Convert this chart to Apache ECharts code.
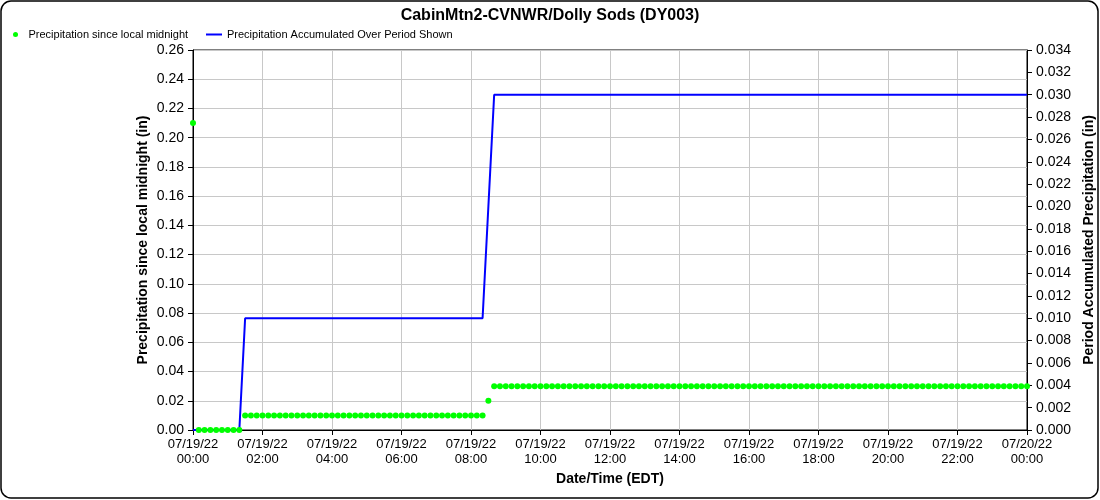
<!DOCTYPE html>
<html>
<head>
<meta charset="utf-8">
<script src="https://cdn.jsdelivr.net/npm/echarts@6/dist/echarts.min.js"></script>
<style>
html,body{margin:0;padding:0;background:#fff;}
#chart{width:1100px;height:500px;}
</style>
</head>
<body>
<div id="chart"></div>
<script>
// Minutes after 07/19/22 00:00, one reading every 10 minutes (00:00 .. 24:00)
var STEP_MIN = 10;

// Precipitation since local midnight (in), left axis
var sinceMidnight = [
  0.21,
  0, 0, 0, 0, 0, 0, 0, 0,
  0.01, 0.01, 0.01, 0.01, 0.01, 0.01, 0.01, 0.01, 0.01, 0.01,
  0.01, 0.01, 0.01, 0.01, 0.01, 0.01, 0.01, 0.01, 0.01, 0.01,
  0.01, 0.01, 0.01, 0.01, 0.01, 0.01, 0.01, 0.01, 0.01, 0.01,
  0.01, 0.01, 0.01, 0.01, 0.01, 0.01, 0.01, 0.01, 0.01, 0.01,
  0.01, 0.01,
  0.02,
  0.03, 0.03, 0.03, 0.03, 0.03, 0.03, 0.03, 0.03, 0.03, 0.03,
  0.03, 0.03, 0.03, 0.03, 0.03, 0.03, 0.03, 0.03, 0.03, 0.03,
  0.03, 0.03, 0.03, 0.03, 0.03, 0.03, 0.03, 0.03, 0.03, 0.03,
  0.03, 0.03, 0.03, 0.03, 0.03, 0.03, 0.03, 0.03, 0.03, 0.03,
  0.03, 0.03, 0.03, 0.03, 0.03, 0.03, 0.03, 0.03, 0.03, 0.03,
  0.03, 0.03, 0.03, 0.03, 0.03, 0.03, 0.03, 0.03, 0.03, 0.03,
  0.03, 0.03, 0.03, 0.03, 0.03, 0.03, 0.03, 0.03, 0.03, 0.03,
  0.03, 0.03, 0.03, 0.03, 0.03, 0.03, 0.03, 0.03, 0.03, 0.03,
  0.03, 0.03, 0.03, 0.03, 0.03, 0.03, 0.03, 0.03, 0.03, 0.03,
  0.03, 0.03, 0.03
];

// Precipitation accumulated over period shown (in), right axis
var accumulated = [
  0, 0, 0, 0, 0, 0, 0, 0, 0,
  0.01, 0.01, 0.01, 0.01, 0.01, 0.01, 0.01, 0.01, 0.01, 0.01,
  0.01, 0.01, 0.01, 0.01, 0.01, 0.01, 0.01, 0.01, 0.01, 0.01,
  0.01, 0.01, 0.01, 0.01, 0.01, 0.01, 0.01, 0.01, 0.01, 0.01,
  0.01, 0.01, 0.01, 0.01, 0.01, 0.01, 0.01, 0.01, 0.01, 0.01,
  0.01, 0.01,
  0.02,
  0.03, 0.03, 0.03, 0.03, 0.03, 0.03, 0.03, 0.03, 0.03, 0.03,
  0.03, 0.03, 0.03, 0.03, 0.03, 0.03, 0.03, 0.03, 0.03, 0.03,
  0.03, 0.03, 0.03, 0.03, 0.03, 0.03, 0.03, 0.03, 0.03, 0.03,
  0.03, 0.03, 0.03, 0.03, 0.03, 0.03, 0.03, 0.03, 0.03, 0.03,
  0.03, 0.03, 0.03, 0.03, 0.03, 0.03, 0.03, 0.03, 0.03, 0.03,
  0.03, 0.03, 0.03, 0.03, 0.03, 0.03, 0.03, 0.03, 0.03, 0.03,
  0.03, 0.03, 0.03, 0.03, 0.03, 0.03, 0.03, 0.03, 0.03, 0.03,
  0.03, 0.03, 0.03, 0.03, 0.03, 0.03, 0.03, 0.03, 0.03, 0.03,
  0.03, 0.03, 0.03, 0.03, 0.03, 0.03, 0.03, 0.03, 0.03, 0.03,
  0.03, 0.03, 0.03
];

var xTickLabels = [
  '07/19/22\n00:00', '07/19/22\n02:00', '07/19/22\n04:00', '07/19/22\n06:00',
  '07/19/22\n08:00', '07/19/22\n10:00', '07/19/22\n12:00', '07/19/22\n14:00',
  '07/19/22\n16:00', '07/19/22\n18:00', '07/19/22\n20:00', '07/19/22\n22:00',
  '07/20/22\n00:00'
];

var titleText = 'CabinMtn2-CVNWR/Dolly Sods (DY003)';
var seriesNames = ['Precipitation since local midnight', 'Precipitation Accumulated Over Period Shown'];
var leftAxisName = 'Precipitation since local midnight (in)';
var rightAxisName = 'Period Accumulated Precipitation (in)';
var xAxisName = 'Date/Time (EDT)';

var greenData = sinceMidnight.map(function (v, i) { return [i * STEP_MIN, v]; });
var blueData = accumulated.map(function (v, i) { return [i * STEP_MIN, v]; });

var FONT = '"Liberation Sans", Arial, sans-serif';
var chart = echarts.init(document.getElementById('chart'), null, { renderer: 'canvas' });

chart.setOption({
  animation: false,
  backgroundColor: '#fff',
  textStyle: { fontFamily: FONT, color: '#000' },
  title: {
    text: titleText,
    left: 'center',
    top: 3,
    textStyle: { fontFamily: FONT, fontSize: 16, fontWeight: 'bold', color: '#000' }
  },
  legend: [
    {
      data: [{ name: seriesNames[0], icon: 'circle' }],
      left: 8, top: 24,
      itemWidth: 10, itemHeight: 5,
      textStyle: { fontFamily: FONT, fontSize: 11, color: '#000', padding: [0, 0, 0, 3] }
    },
    {
      data: [{ name: seriesNames[1], icon: 'rect' }],
      left: 201, top: 24,
      itemWidth: 16, itemHeight: 2,
      textStyle: { fontFamily: FONT, fontSize: 11, color: '#000' }
    }
  ],
  grid: {
    left: 193, right: 73, top: 50, bottom: 70,
    outerBoundsMode: 'none',
    containLabel: false,
    show: true, borderColor: '#000', borderWidth: 1, backgroundColor: 'transparent'
  },
  xAxis: {
    type: 'value',
    min: 0, max: 1440, interval: 120,
    name: xAxisName,
    nameLocation: 'middle',
    nameGap: 42,
    nameMoveOverlap: false,
    nameTextStyle: { fontFamily: FONT, fontSize: 14, fontWeight: 'bold', color: '#000' },
    axisLine: { onZero: false, lineStyle: { color: '#000', width: 1 } },
    axisTick: { show: true, length: 5, lineStyle: { color: '#000' } },
    axisLabel: {
      fontFamily: FONT, fontSize: 13, color: '#000', lineHeight: 15, margin: 7,
      formatter: function (v) { return xTickLabels[Math.round(v / 120)]; }
    },
    splitLine: { show: true, lineStyle: { color: '#c8c8c8', width: 1 } }
  },
  yAxis: [
    {
      type: 'value',
      position: 'left',
      min: 0, max: 0.26, interval: 0.02,
      name: leftAxisName,
      nameLocation: 'middle',
      nameRotate: 90,
      nameGap: 43,
      nameMoveOverlap: false,
      nameTextStyle: { fontFamily: FONT, fontSize: 14, fontWeight: 'bold', color: '#000' },
      axisLine: { show: true, lineStyle: { color: '#000', width: 1 } },
      axisTick: { show: true, length: 5, lineStyle: { color: '#000' } },
      axisLabel: {
        fontFamily: FONT, fontSize: 14, color: '#000', margin: 9,
        formatter: function (v) { return v.toFixed(2); }
      },
      splitLine: { show: true, lineStyle: { color: '#c8c8c8', width: 1 } }
    },
    {
      type: 'value',
      position: 'right',
      min: 0, max: 0.034, interval: 0.002,
      name: rightAxisName,
      nameLocation: 'middle',
      nameRotate: 90,
      nameGap: 55,
      nameMoveOverlap: false,
      nameTextStyle: { fontFamily: FONT, fontSize: 14, fontWeight: 'bold', color: '#000' },
      axisLine: { show: true, lineStyle: { color: '#000', width: 1 } },
      axisTick: { show: true, length: 5, lineStyle: { color: '#000' } },
      axisLabel: {
        fontFamily: FONT, fontSize: 14, color: '#000', margin: 9,
        formatter: function (v) { return v.toFixed(3); }
      },
      splitLine: { show: false }
    }
  ],
  series: [
    {
      name: seriesNames[1],
      type: 'line',
      yAxisIndex: 1,
      data: blueData,
      showSymbol: false,
      symbol: 'none',
      itemStyle: { color: '#0000ff' },
      lineStyle: { color: '#0000ff', width: 2 },
      z: 2
    },
    {
      name: seriesNames[0],
      type: 'scatter',
      yAxisIndex: 0,
      data: greenData,
      symbol: 'circle',
      symbolSize: 6,
      itemStyle: { color: '#00ff00', opacity: 1 },
      z: 3
    }
  ],
  graphic: [
    {
      type: 'rect',
      shape: { x: 1, y: 1, width: 1097, height: 497, r: 10 },
      style: { fill: 'none', stroke: '#000', lineWidth: 1.5 },
      silent: true, z: 100
    }
  ]
});
</script>
</body>
</html>
